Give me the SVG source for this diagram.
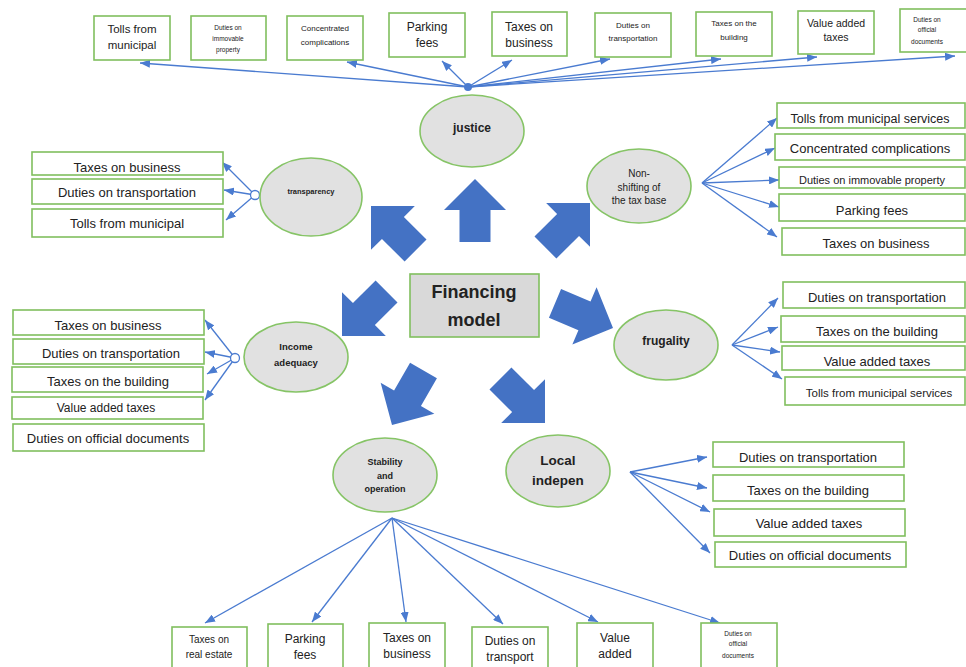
<svg xmlns="http://www.w3.org/2000/svg" width="966" height="667" viewBox="0 0 966 667">
<style>
.box{fill:#fff;stroke:#80bf5e;stroke-width:1.6}
.ell{fill:#e1e1e1;stroke:#86c466;stroke-width:1.6}
.t{font-family:"Liberation Sans",Arial,sans-serif;fill:#222;text-anchor:middle;dominant-baseline:central}
.b{font-weight:bold}
.ln{stroke:#4a7bd0;stroke-width:1.3;fill:none}
.la{stroke:#4a7bd0;stroke-width:1.3;fill:none;marker-end:url(#ah)}
.blk{fill:#4472c4}
</style>
<defs>
<marker id="ah" markerUnits="userSpaceOnUse" markerWidth="10" markerHeight="8" refX="10" refY="4" orient="auto">
<path d="M0,0 L10,4 L0,8 Z" fill="#4a7bd0"/>
</marker>
<path id="barrow" d="M0,0 L31,31 L15.5,31 L15.5,63 L-15.5,63 L-15.5,31 L-31,31 Z"/>
</defs>
<rect width="966" height="667" fill="#fff"/>

<!-- block arrows -->
<g id="blockarrows" class="blk">
<use href="#barrow" transform="translate(475,179)"/>
<use href="#barrow" transform="translate(371,206) rotate(-45)"/>
<use href="#barrow" transform="translate(590,203) rotate(45)"/>
<use href="#barrow" transform="translate(342,336) rotate(225)"/>
<use href="#barrow" transform="translate(613,328) rotate(113)"/>
<use href="#barrow" transform="translate(392,425) rotate(210)"/>
<use href="#barrow" transform="translate(545,423) rotate(135)"/>
</g>

<!-- connectors -->
<g id="connectors">
<path class="la" d="M468,87 L140,63"/>
<path class="la" d="M468,87 L347,62"/>
<path class="la" d="M468,87 L442,61"/>
<path class="la" d="M468,87 L512,60"/>
<path class="la" d="M468,87 L610,59"/>
<path class="la" d="M468,87 L721,59"/>
<path class="la" d="M468,87 L817,57"/>
<path class="la" d="M468,87 L955,56"/>
<circle cx="468" cy="87" r="4" fill="#4a7bd0"/>

<path class="la" d="M255,195 L222,162"/>
<path class="la" d="M255,195 L224,190"/>
<path class="la" d="M255,195 L226,220"/>
<circle cx="255" cy="195" r="4.5" fill="#fff" stroke="#4a7bd0" stroke-width="1.3"/>

<path class="la" d="M702,183 L777,118"/>
<path class="la" d="M702,183 L775,148"/>
<path class="la" d="M702,183 L779,180"/>
<path class="la" d="M702,183 L779,207"/>
<path class="la" d="M702,183 L777,237"/>

<path class="la" d="M235,358 L205,320"/>
<path class="la" d="M235,358 L205,352"/>
<path class="la" d="M235,358 L207,374"/>
<path class="la" d="M235,358 L205,400"/>
<circle cx="235" cy="358" r="4.5" fill="#fff" stroke="#4a7bd0" stroke-width="1.3"/>

<path class="la" d="M732,345 L778,298"/>
<path class="la" d="M732,345 L778,327"/>
<path class="la" d="M732,345 L780,352"/>
<path class="la" d="M732,345 L782,379"/>

<path class="la" d="M630,472 L707,457"/>
<path class="la" d="M630,472 L707,488"/>
<path class="la" d="M630,472 L710,512"/>
<path class="la" d="M630,472 L710,553"/>

<path class="la" d="M392,518 L205,623"/>
<path class="la" d="M392,518 L312,622"/>
<path class="la" d="M392,518 L406,622"/>
<path class="la" d="M392,518 L503,624"/>
<path class="la" d="M392,518 L598,622"/>
<path class="la" d="M392,518 L720,623"/>
</g>

<!-- center -->
<g id="financing">
<rect x="410" y="274" width="129" height="63" fill="#d9d9d9" stroke="#80bf5e" stroke-width="1.6"/>
<text class="t b" x="474" y="292" font-size="18">Financing</text>
<text class="t b" x="474" y="320" font-size="18">model</text>
</g>

<!-- ellipses -->
<g id="justice"><ellipse class="ell" cx="472" cy="131" rx="52" ry="36"/><text class="t b" x="472" y="128" font-size="12">justice</text></g>
<g id="nonshifting"><ellipse class="ell" cx="639" cy="186" rx="52" ry="37"/>
<text class="t" x="639" y="173" font-size="10">Non-</text><text class="t" x="639" y="187" font-size="10">shifting of</text><text class="t" x="639" y="200" font-size="10">the tax base</text></g>
<g id="transparency"><ellipse class="ell" cx="311" cy="197" rx="51" ry="39"/><text class="t b" x="311" y="191" font-size="7.5">transparency</text></g>
<g id="income"><ellipse class="ell" cx="296" cy="357" rx="52" ry="35"/><text class="t b" x="296" y="346" font-size="9.5">Income</text><text class="t b" x="296" y="362" font-size="9.5">adequacy</text></g>
<g id="frugality"><ellipse class="ell" cx="666" cy="345" rx="52" ry="35"/><text class="t b" x="666" y="341" font-size="12">frugality</text></g>
<g id="stability"><ellipse class="ell" cx="385" cy="475" rx="52" ry="37"/>
<text class="t b" x="385" y="462" font-size="9">Stability</text><text class="t b" x="385" y="476" font-size="9">and</text><text class="t b" x="385" y="489" font-size="9">operation</text></g>
<g id="localindepen"><ellipse class="ell" cx="558" cy="471" rx="52" ry="36"/><text class="t b" x="558" y="460" font-size="13.5">Local</text><text class="t b" x="558" y="480" font-size="13.5">indepen</text></g>

<!-- top row boxes -->
<g id="top1"><rect class="box" x="94" y="16" width="76" height="44"/><text class="t" x="132" y="29" font-size="11.5">Tolls from</text><text class="t" x="132" y="45" font-size="11.5">municipal</text></g>
<g id="top2"><rect class="box" x="191" y="16" width="75" height="44"/><text class="t" x="228" y="27" font-size="6.5">Duties on</text><text class="t" x="228" y="38" font-size="6.5">immovable</text><text class="t" x="228" y="49" font-size="6.5">property</text></g>
<g id="top3"><rect class="box" x="287" y="16" width="76" height="44"/><text class="t" x="325" y="28" font-size="8">Concentrated</text><text class="t" x="325" y="42" font-size="8">complications</text></g>
<g id="top4"><rect class="box" x="389" y="13" width="76" height="44"/><text class="t" x="427" y="27" font-size="12">Parking</text><text class="t" x="427" y="43" font-size="12">fees</text></g>
<g id="top5"><rect class="box" x="492" y="12" width="75" height="44"/><text class="t" x="529" y="27" font-size="12">Taxes on</text><text class="t" x="529" y="43" font-size="12">business</text></g>
<g id="top6"><rect class="box" x="595" y="13" width="76" height="44"/><text class="t" x="633" y="25" font-size="8">Duties on</text><text class="t" x="633" y="38" font-size="8">transportation</text></g>
<g id="top7"><rect class="box" x="696" y="12" width="76" height="44"/><text class="t" x="734" y="23" font-size="8">Taxes on the</text><text class="t" x="734" y="37" font-size="8">building</text></g>
<g id="top8"><rect class="box" x="798" y="11" width="76" height="43"/><text class="t" x="836" y="23" font-size="10.5">Value added</text><text class="t" x="836" y="37" font-size="10.5">taxes</text></g>
<g id="top9"><rect class="box" x="900" y="9" width="76" height="43"/><text class="t" x="927" y="19" font-size="6.5">Duties on</text><text class="t" x="927" y="29" font-size="6.5">official</text><text class="t" x="927" y="41" font-size="6.5">documents</text></g>

<!-- transparency boxes -->
<g id="tr1"><rect class="box" x="32" y="152" width="191" height="23"/><text class="t" x="127" y="167" font-size="13">Taxes on business</text></g>
<g id="tr2"><rect class="box" x="32" y="179" width="191" height="25"/><text class="t" x="127" y="192" font-size="13">Duties on transportation</text></g>
<g id="tr3"><rect class="box" x="32" y="209" width="191" height="28"/><text class="t" x="127" y="223" font-size="13">Tolls from municipal</text></g>

<!-- non-shifting boxes -->
<g id="ns1"><rect class="box" x="777" y="103" width="188" height="25"/><text class="t" x="870" y="119" font-size="12.5">Tolls from municipal services</text></g>
<g id="ns2"><rect class="box" x="775" y="134" width="190" height="26"/><text class="t" x="870" y="148" font-size="13">Concentrated complications</text></g>
<g id="ns3"><rect class="box" x="779" y="167" width="186" height="21"/><text class="t" x="872" y="180" font-size="11">Duties on immovable property</text></g>
<g id="ns4"><rect class="box" x="779" y="194" width="186" height="27"/><text class="t" x="872" y="210" font-size="13">Parking fees</text></g>
<g id="ns5"><rect class="box" x="782" y="228" width="183" height="27"/><text class="t" x="876" y="243" font-size="13">Taxes on business</text></g>

<!-- income boxes -->
<g id="in1"><rect class="box" x="13" y="310" width="191" height="25"/><text class="t" x="108" y="325" font-size="13">Taxes on business</text></g>
<g id="in2"><rect class="box" x="13" y="339" width="191" height="25"/><text class="t" x="111" y="353" font-size="13">Duties on transportation</text></g>
<g id="in3"><rect class="box" x="12" y="367" width="191" height="25"/><text class="t" x="108" y="381" font-size="13">Taxes on the building</text></g>
<g id="in4"><rect class="box" x="12" y="397" width="191" height="22"/><text class="t" x="106" y="408" font-size="12">Value added taxes</text></g>
<g id="in5"><rect class="box" x="13" y="424" width="191" height="27"/><text class="t" x="108" y="438" font-size="13">Duties on official documents</text></g>

<!-- frugality boxes -->
<g id="fr1"><rect class="box" x="783" y="282" width="182" height="26"/><text class="t" x="877" y="297" font-size="13">Duties on transportation</text></g>
<g id="fr2"><rect class="box" x="781" y="316" width="184" height="26"/><text class="t" x="877" y="331" font-size="13">Taxes on the building</text></g>
<g id="fr3"><rect class="box" x="782" y="346" width="183" height="24"/><text class="t" x="877" y="361" font-size="13">Value added taxes</text></g>
<g id="fr4"><rect class="box" x="785" y="377" width="180" height="28"/><text class="t" x="879" y="393" font-size="11.5">Tolls from municipal services</text></g>

<!-- local indepen boxes -->
<g id="li1"><rect class="box" x="713" y="442" width="191" height="25"/><text class="t" x="808" y="457" font-size="13">Duties on transportation</text></g>
<g id="li2"><rect class="box" x="713" y="475" width="191" height="26"/><text class="t" x="808" y="490" font-size="13">Taxes on the building</text></g>
<g id="li3"><rect class="box" x="714" y="509" width="191" height="27"/><text class="t" x="809" y="523" font-size="13">Value added taxes</text></g>
<g id="li4"><rect class="box" x="715" y="542" width="191" height="25"/><text class="t" x="810" y="555" font-size="13">Duties on official documents</text></g>

<!-- bottom row boxes -->
<g id="bt1"><rect class="box" x="172" y="627" width="75" height="46"/><text class="t" x="209" y="639" font-size="10">Taxes on</text><text class="t" x="209" y="654" font-size="10">real estate</text></g>
<g id="bt2"><rect class="box" x="268" y="624" width="75" height="48"/><text class="t" x="305" y="639" font-size="12">Parking</text><text class="t" x="305" y="655" font-size="12">fees</text></g>
<g id="bt3"><rect class="box" x="369" y="623" width="76" height="48"/><text class="t" x="407" y="638" font-size="12">Taxes on</text><text class="t" x="407" y="654" font-size="12">business</text></g>
<g id="bt4"><rect class="box" x="472" y="627" width="76" height="46"/><text class="t" x="510" y="641" font-size="12">Duties on</text><text class="t" x="510" y="657" font-size="12">transport</text></g>
<g id="bt5"><rect class="box" x="577" y="623" width="76" height="48"/><text class="t" x="615" y="638" font-size="12">Value</text><text class="t" x="615" y="654" font-size="12">added</text></g>
<g id="bt6"><rect class="box" x="701" y="623" width="76" height="48"/><text class="t" x="738" y="633" font-size="6.5">Duties on</text><text class="t" x="738" y="643" font-size="6.5">official</text><text class="t" x="738" y="655" font-size="6.5">documents</text></g>
</svg>
